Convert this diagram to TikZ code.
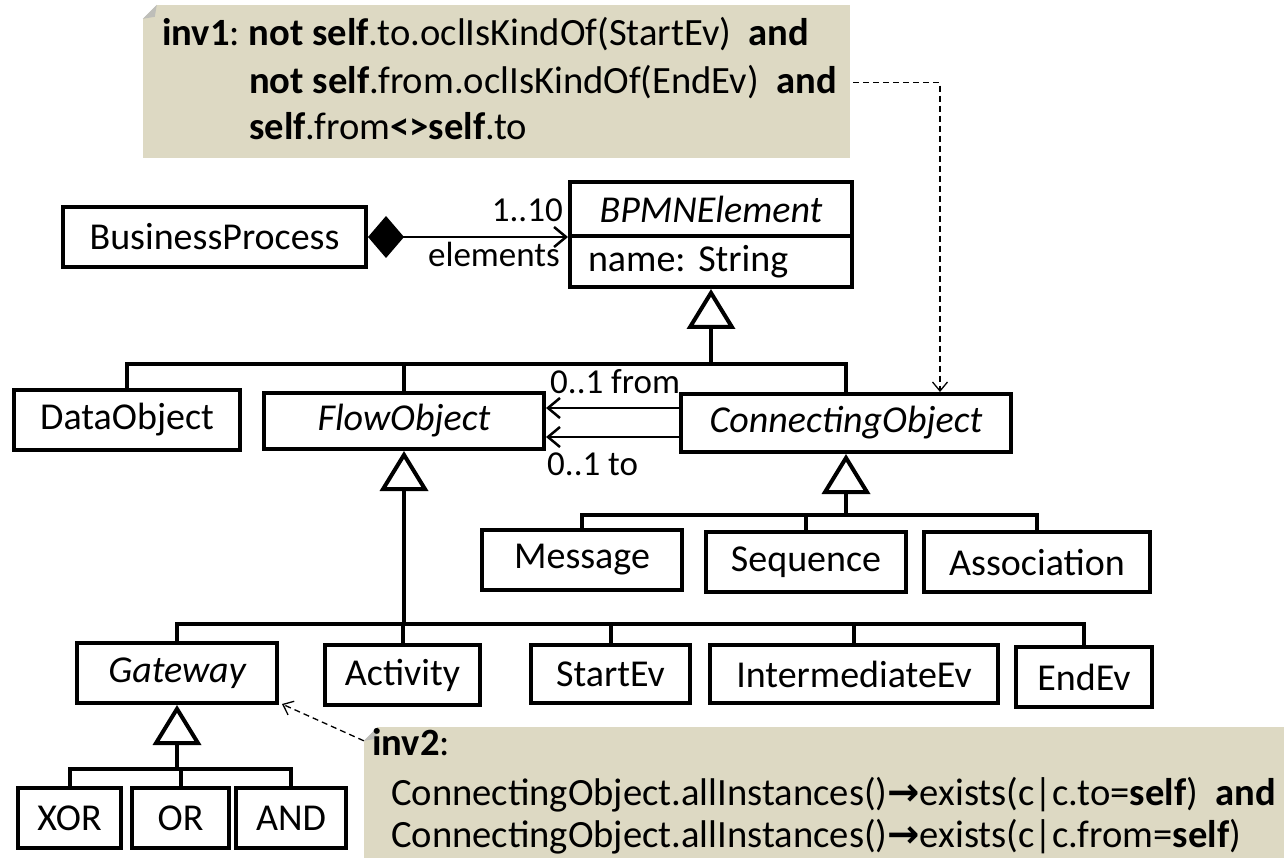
\documentclass[tikz,border=0pt]{standalone}
\usepackage{fontspec}
\setmainfont{Carlito}
\newfontfamily\arrowfont{DejaVu Sans}
\usetikzlibrary{arrows.meta,calc}
\definecolor{notebg}{RGB}{221,217,195}
\definecolor{foldc}{RGB}{190,190,185}
\begin{document}
\frenchspacing
\begin{tikzpicture}[x=1pt,y=-1pt,
  box/.style={draw, line width=4pt, fill=white, inner sep=0pt, font=\fontsize{38}{44}\selectfont},
  tree/.style={line width=4pt, line join=miter},
  gen/.style={line width=4pt, -{Triangle[open,fill=white,length=40pt,width=48pt,line width=4pt]}},
  nav/.style={line width=2.5pt, -{Straight Barb[length=12pt,width=20pt,line width=2.5pt]}},
  compo/.style={line width=2.5pt, {Diamond[length=36pt,width=42pt]}-{Straight Barb[length=12pt,width=20pt,line width=2.5pt]}},
  dep/.style={line width=1.3pt, dash pattern=on 6pt off 4pt, -{Straight Barb[length=9pt,width=15pt,line width=1.3pt]}},
  lbl/.style={inner sep=0pt, font=\fontsize{35}{42}\selectfont},
  notebox/.style={fill=notebg, inner sep=0pt},
  notetext/.style={inner sep=0pt, font=\fontsize{38.6}{46}\selectfont}
]
\useasboundingbox (0,0) rectangle (1284,858);

% ---------- top note ----------
\node[notebox, minimum width=707pt, minimum height=153pt] (note1) at (496.5,81.5) {};
\fill[white] (note1.north west) -- ++(14,0) -- ++(-14,14) -- cycle;
\fill[foldc] ($(note1.north west)+(14,0)$) -- ++(-14,14) -- ++(12,-2) -- cycle;
\node[notetext, anchor=base west] (n1a) at (162,46) {\textbf{inv1}: \textbf{not self}.to.oclIsKindOf(StartEv)\hspace{0.45em}\textbf{and}};
\node[notetext, anchor=base west] (n1b) at (249,94) {\textbf{not self}.from.oclIsKindOf(EndEv)\hspace{0.45em}\textbf{and}};
\node[notetext, anchor=base west] (n1c) at (249,140) {\textbf{self}.from\textbf{<>self}.to};

% ---------- bottom note ----------
\node[notebox, minimum width=926pt, minimum height=140pt] (note2) at (827,797) {};
\fill[white] (note2.north west) -- ++(14,0) -- ++(-14,14) -- cycle;
\fill[foldc] ($(note2.north west)+(14,0)$) -- ++(-14,14) -- ++(12,-2) -- cycle;
\node[notetext, anchor=base west] (n2a) at (372,755) {\textbf{inv2}:};
\node[notetext, anchor=base west] (n2b) at (391,805) {ConnectingObject.allInstances(){\arrowfont\bfseries →}exists(c|c.to=\textbf{self})\hspace{0.45em}\textbf{and}};
\node[notetext, anchor=base west] (n2c) at (391,847) {ConnectingObject.allInstances(){\arrowfont\bfseries →}exists(c|c.from=\textbf{self})};

% ---------- classes ----------
\node[box, minimum width=303pt, minimum height=60pt] (bp) at (214.5,237) {BusinessProcess};
\node[box, minimum width=282pt, minimum height=54pt] (bpmn) at (711,209) {\itshape BPMNElement};
\node[box, minimum width=282pt, minimum height=51pt, text width=262pt, inner xsep=10pt, align=left] (bpmnattr) at (711,261.5) {\hspace{8pt}name: String};

\node[box, minimum width=226pt, minimum height=60pt] (data) at (127,420) {DataObject};
\node[box, minimum width=280pt, minimum height=56pt] (flow) at (404,421) {\itshape FlowObject};
\node[box, minimum width=330pt, minimum height=58pt] (conn) at (846,423) {\itshape ConnectingObject};

\node[box, minimum width=200pt, minimum height=60pt] (msg) at (582,560) {Message};
\node[box, minimum width=200pt, minimum height=60pt] (seq) at (806,562) {Sequence};
\node[box, minimum width=226pt, minimum height=60pt] (assoc) at (1037,562) {Association};

\node[box, minimum width=200pt, minimum height=60pt] (gate) at (177,673) {\itshape Gateway};
\node[box, minimum width=155pt, minimum height=60pt] (act) at (402.5,675) {Activity};
\node[box, minimum width=159pt, minimum height=58pt] (start) at (610.5,674) {StartEv};
\node[box, minimum width=288pt, minimum height=58pt] (inter) at (854,674) {IntermediateEv};
\node[box, minimum width=136pt, minimum height=60pt] (endev) at (1084,677) {EndEv};

\node[box, minimum width=103pt, minimum height=60pt] (xor) at (69.5,818) {XOR};
\node[box, minimum width=97pt, minimum height=60pt] (or) at (180.5,818) {OR};
\node[box, minimum width=110pt, minimum height=60pt] (and) at (291,818) {AND};

% ---------- generalization trees ----------
\coordinate (j1) at ($(bpmnattr.south)+(0,75)$);
\draw[tree] (data.north) |- (conn.north |- j1) -- (conn.north);
\draw[tree] (flow.north) -- (flow.north |- j1);
\draw[gen] (j1) -- (bpmnattr.south);

\coordinate (j2) at ($(conn.south)+(0,61)$);
\draw[tree] (msg.north) |- (assoc.north |- j2) -- (assoc.north);
\draw[tree] (seq.north) -- (seq.north |- j2);
\draw[gen] (j2) -- (conn.south);

\coordinate (j3) at ($(flow.south)+(0,173)$);
\draw[tree] (gate.north) |- (endev.north |- j3) -- (endev.north);
\draw[tree] (act.north) -- (act.north |- j3);
\draw[tree] (start.north) -- (start.north |- j3);
\draw[tree] (inter.north) -- (inter.north |- j3);
\draw[gen] (j3) -- (flow.south);

\coordinate (j4) at ($(gate.south)+(0,64)$);
\draw[tree] (xor.north) |- (and.north |- j4) -- (and.north);
\draw[tree] (or.north) -- (or.north |- j4);
\draw[gen] (j4) -- (gate.south);

% ---------- associations ----------
\draw[compo] (bp.east) -- (bp.east -| bpmn.west);
\node[lbl, anchor=base east] (l110) at (563,222) {1..10};
\node[lbl, anchor=base east] (lel) at (560,267) {elements};

\coordinate (cfrom) at ($(conn.west)+(0,-15)$);
\coordinate (cto) at ($(conn.west)+(0,14)$);
\draw[nav] (cfrom) -- (cfrom -| flow.east);
\draw[nav] (cto) -- (cto -| flow.east);
\node[lbl, anchor=base west] (lfrom) at (550,393) {0..1 from};
\node[lbl, anchor=base west] (lto) at (547,475) {0..1 to};

% ---------- note anchors ----------
\draw[dep] ($(note1.east)+(3,1)$) -| ($(conn.north east)+(-73,0)$);
\draw[dep] ($(note2.north west)+(0,14)$) -- ($(gate.south east)+(3,-1)$);
\end{tikzpicture}
\end{document}
